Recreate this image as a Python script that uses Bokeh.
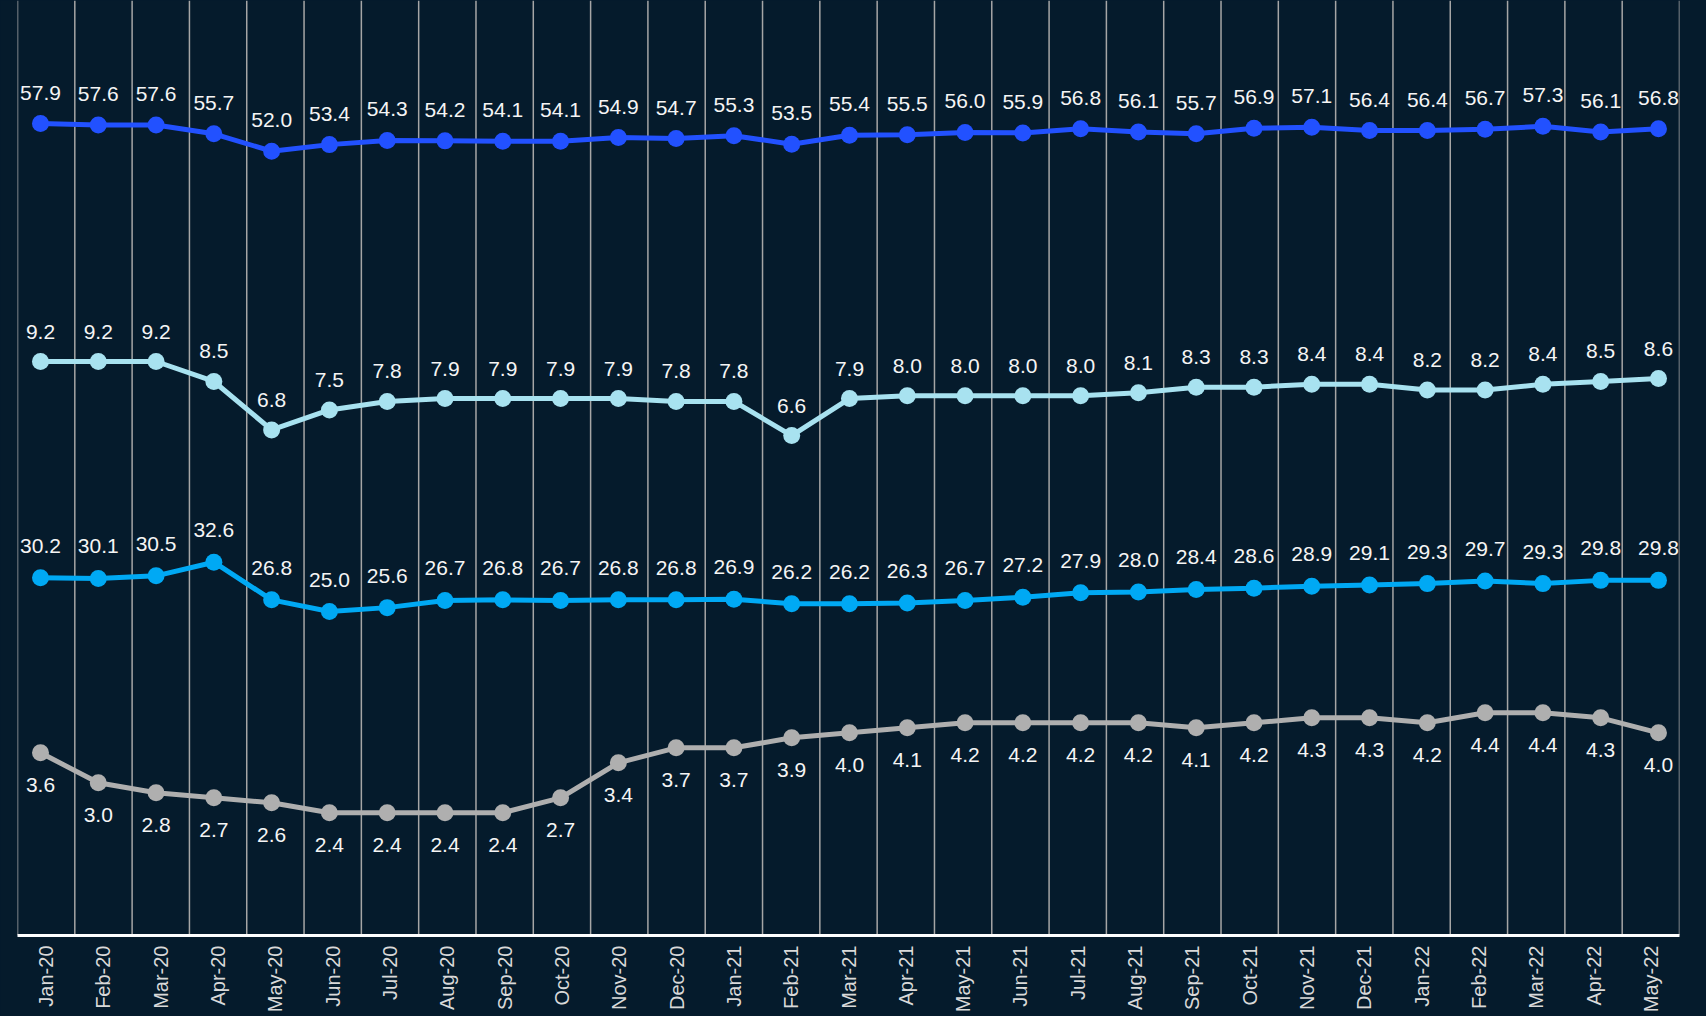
import numpy as np
from bokeh.plotting import figure
from bokeh.models import Range1d, LinearAxis, FixedTicker, ColumnDataSource
from bokeh.embed import file_html
from bokeh.resources import INLINE
from bokeh.core.properties import value

months = ["Jan-20", "Feb-20", "Mar-20", "Apr-20", "May-20", "Jun-20", "Jul-20", "Aug-20",
          "Sep-20", "Oct-20", "Nov-20", "Dec-20", "Jan-21", "Feb-21", "Mar-21", "Apr-21",
          "May-21", "Jun-21", "Jul-21", "Aug-21", "Sep-21", "Oct-21", "Nov-21", "Dec-21",
          "Jan-22", "Feb-22", "Mar-22", "Apr-22", "May-22"]

series_a = [57.9, 57.6, 57.6, 55.7, 52.0, 53.4, 54.3, 54.2, 54.1, 54.1, 54.9, 54.7, 55.3, 53.5,
            55.4, 55.5, 56.0, 55.9, 56.8, 56.1, 55.7, 56.9, 57.1, 56.4, 56.4, 56.7, 57.3, 56.1, 56.8]
series_b = [9.2, 9.2, 9.2, 8.5, 6.8, 7.5, 7.8, 7.9, 7.9, 7.9, 7.9, 7.8, 7.8, 6.6,
            7.9, 8.0, 8.0, 8.0, 8.0, 8.1, 8.3, 8.3, 8.4, 8.4, 8.2, 8.2, 8.4, 8.5, 8.6]
series_c = [30.2, 30.1, 30.5, 32.6, 26.8, 25.0, 25.6, 26.7, 26.8, 26.7, 26.8, 26.8, 26.9, 26.2,
            26.2, 26.3, 26.7, 27.2, 27.9, 28.0, 28.4, 28.6, 28.9, 29.1, 29.3, 29.7, 29.3, 29.8, 29.8]
series_d = [3.6, 3.0, 2.8, 2.7, 2.6, 2.4, 2.4, 2.4, 2.4, 2.7, 3.4, 3.7, 3.7, 3.9,
            4.0, 4.1, 4.2, 4.2, 4.2, 4.2, 4.1, 4.2, 4.3, 4.3, 4.2, 4.4, 4.4, 4.3, 4.0]

BG = "#051b2c"
FONT = "Liberation Sans"

p = figure(frame_width=1662, frame_height=935, output_backend="svg", toolbar_location=None,
           x_range=Range1d(-0.398, 28.364), y_range=Range1d(-115.23, 84.13),
           x_axis_location=None, y_axis_location=None,
           min_border_left=17, min_border_right=10, min_border_top=0, min_border_bottom=0,
           background_fill_color=BG, border_fill_color=BG, outline_line_color=None)
p.extra_x_ranges = {"cat": Range1d(-0.5, len(months) - 0.5)}
p.extra_y_ranges = {"b": Range1d(-10.94, 21.867),
                    "c": Range1d(-24.92, 119.15),
                    "d": Range1d(-0.054, 18.646)}
p.xgrid.visible = False
p.ygrid.visible = False

# vertical gridlines at category boundaries
bounds = [i - 0.5 for i in range(len(months) + 1)]
p.segment(x0=bounds, x1=bounds, y0=[p.y_range.start] * len(bounds), y1=[p.y_range.end] * len(bounds),
          x_range_name="cat", line_color="#a6a6a6", line_width=1.5)

ax = LinearAxis(x_range_name="cat",
                ticker=FixedTicker(ticks=list(range(len(months)))),
                major_label_overrides={i: m for i, m in enumerate(months)},
                major_label_orientation=np.pi / 2,
                axis_line_color="#ffffff", axis_line_width=3,
                major_tick_line_color=None, minor_tick_line_color=None,
                major_tick_out=0, major_tick_in=0,
                major_label_text_font=FONT, major_label_text_font_size="20px",
                major_label_text_color="#d9d9d9", major_label_standoff=10)
p.add_layout(ax, "below")

specs = [
    (series_a, "#2251ff", "default", -31),
    (series_b, "#a8e2f0", "b", -30),
    (series_c, "#00a9f4", "c", -32),
    (series_d, "#afafaf", "d", 32),
]
x = list(range(len(months)))
for data, color, rname, off in specs:
    src = ColumnDataSource(dict(x=x, y=data, label=[f"{v:.1f}" for v in data]))
    p.line("x", "y", source=src, y_range_name=rname, line_color=color, line_width=5)
    p.scatter("x", "y", source=src, y_range_name=rname, size=17, fill_color=color, line_color=None)
    p.text("x", "y", text="label", source=src, y_range_name=rname, y_offset=off,
           text_align="center", text_baseline="middle",
           text_font=value(FONT), text_font_size="21px", text_color="#f5f5f5")

html = file_html(p, INLINE)
html = html.replace("<head>", "<head><style>html, body { background: %s; }</style>" % BG, 1)
open("out.html", "w").write(html)
